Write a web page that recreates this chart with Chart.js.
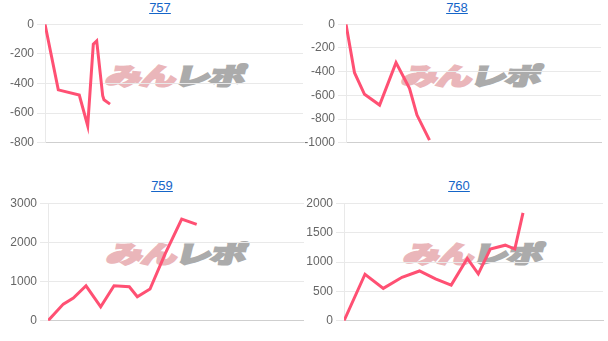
<!DOCTYPE html>
<html>
<head>
<meta charset="utf-8">
<script src="https://cdn.jsdelivr.net/npm/chart.js@4.4.0/dist/chart.umd.min.js"></script>
<style>
  html, body { margin: 0; padding: 0; background: #fff; }
  #wrap { position: relative; width: 608px; height: 341px; overflow: hidden; }
  .title {
    position: absolute; width: 120px; margin-left: -60px; text-align: center;
    font: 13px 'Liberation Sans', Arial, sans-serif; line-height: 16px;
  }
  .title a { color: #1565c8; text-decoration: underline; }
  .mark {
    position: absolute; width: 100px; margin-left: -50px; text-align: center;
    font: 900 24px 'Noto Sans CJK JP', sans-serif; line-height: 26px;
    white-space: nowrap; transform: skewX(-14deg) scaleX(1.5); z-index: 0;
    letter-spacing: -1px;
  }
  .mark .a { color: #eab6ba; -webkit-text-stroke: 2px #eab6ba; }
  .mark .b { color: #ababab; -webkit-text-stroke: 2px #ababab; }
  canvas { position: absolute; z-index: 1; }
</style>
</head>
<body>
<div id="wrap"></div>
<script>
// machine numbers shown above each graph
const machines = ['757', '758', '759', '760'];

// game count / coin difference
const games757 = [0, 412, 1063, 1324, 1498, 1603, 1789, 1829, 2016];
const diff757  = [0, -443, -478, -685, -135, -113, -483, -510, -539];

const games758 = [0, 267, 580, 1054, 1569, 1992, 2227, 2620];
const diff758  = [0, -409, -591, -682, -324, -541, -766, -977];

const games759 = [0, 478, 791, 1188, 1647, 2063, 2541, 2791, 3188, 3656, 4178, 4647];
const diff759  = [0, 426, 579, 893, 357, 893, 867, 612, 809, 1701, 2594, 2460];

const games760 = [0, 649, 1214, 1792, 2332, 2826, 3311, 3808, 4148, 4519, 4982, 5276, 5529];
const diff760  = [0, 792, 551, 740, 847, 712, 607, 1060, 797, 1220, 1286, 1220, 1836];

// y tick labels per graph
const ticks757 = [0, -200, -400, -600, -800];
const ticks758 = [0, -200, -400, -600, -800, -1000];
const ticks759 = [3000, 2000, 1000, 0];
const ticks760 = [2000, 1500, 1000, 500, 0];

const GAMES_MAX = 8000;
const LINE_COLOR = '#ff5073';

// panel placement: canvas box + y axis width + right padding
const panels = [
  { games: games757, diff: diff757, ticks: ticks757, left: 0,   top: 14,  w: 304, h: 139, axisW: 45, padR: 1, titleX: 160, titleY: 0,   markX: 176, markY: 62 },
  { games: games758, diff: diff758, ticks: ticks758, left: 304, top: 14,  w: 304, h: 139, axisW: 42, padR: 7, titleX: 457, titleY: 0,   markX: 472, markY: 62 },
  { games: games759, diff: diff759, ticks: ticks759, left: 0,   top: 193, w: 304, h: 138, axisW: 48, padR: 0, titleX: 162, titleY: 178, markX: 177, markY: 240 },
  { games: games760, diff: diff760, ticks: ticks760, left: 304, top: 193, w: 304, h: 138, axisW: 40, padR: 5, titleX: 459, titleY: 178, markX: 474, markY: 240 }
];

const wrap = document.getElementById('wrap');

function stepOf(ticks) {
  return Math.abs(ticks[0] - ticks[1]);
}

function buildPanel(p, i) {
  const title = document.createElement('div');
  title.className = 'title';
  title.style.left = p.titleX + 'px';
  title.style.top = p.titleY + 'px';
  title.innerHTML = '<a href="#">' + machines[i] + '</a>';
  wrap.appendChild(title);

  const mark = document.createElement('div');
  mark.className = 'mark';
  mark.style.left = p.markX + 'px';
  mark.style.top = p.markY + 'px';
  mark.innerHTML = '<span class="a">みん</span><span class="b">レポ</span>';
  wrap.appendChild(mark);

  const canvas = document.createElement('canvas');
  canvas.width = p.w;
  canvas.height = p.h;
  canvas.style.left = p.left + 'px';
  canvas.style.top = p.top + 'px';
  wrap.appendChild(canvas);

  const points = p.games.map((g, k) => ({ x: g, y: p.diff[k] }));

  new Chart(canvas.getContext('2d'), {
    type: 'line',
    data: {
      datasets: [{
        data: points,
        borderColor: LINE_COLOR,
        borderWidth: 3,
        pointRadius: 0,
        tension: 0,
        fill: false
      }]
    },
    options: {
      responsive: false,
      animation: false,
      devicePixelRatio: 1,
      layout: { padding: { right: p.padR, left: 0, top: 0, bottom: 0 } },
      plugins: { legend: { display: false }, tooltip: { enabled: false } },
      scales: {
        x: {
          type: 'linear',
          min: 0,
          max: GAMES_MAX,
          ticks: { display: false },
          grid: { display: false, drawTicks: false },
          border: { display: true, color: '#cfcfcf', width: 1 }
        },
        y: {
          min: Math.min(...p.ticks),
          max: Math.max(...p.ticks),
          ticks: {
            stepSize: stepOf(p.ticks),
            color: '#666',
            font: { family: "'Liberation Sans', Arial, sans-serif", size: 12 },
            padding: 3,
            callback: v => String(v)
          },
          grid: { color: '#e9e9e9', tickLength: 8 },
          border: { color: '#e9e9e9' },
          afterFit: s => { s.width = p.axisW; }
        }
      }
    }
  });
}

panels.forEach(buildPanel);
</script>
</body>
</html>
